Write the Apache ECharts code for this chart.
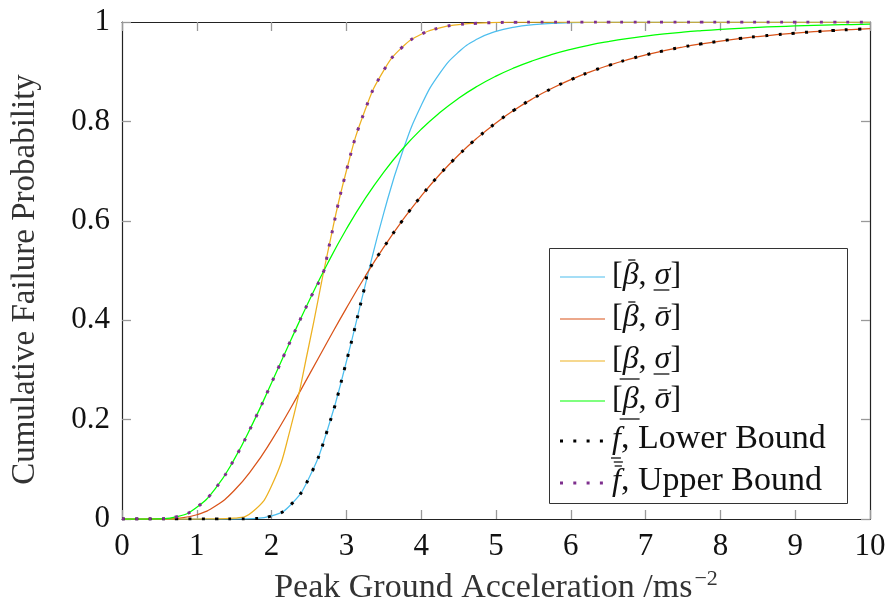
<!DOCTYPE html>
<html><head><meta charset="utf-8">
<script src="https://cdn.jsdelivr.net/npm/echarts@6/dist/echarts.min.js"></script>
<style>html,body{margin:0;padding:0;background:#fff}#c{width:890px;height:610px}</style>
</head><body><div id="c"></div>
<script>
const xs = [0,0.25,0.5,0.75,1,1.25,1.5,1.75,2,2.25,2.5,2.75,3,3.25,3.5,3.75,4,4.25,4.5,4.75,5,5.25,5.5,5.75,6,6.25,6.5,6.75,7,7.25,7.5,7.75,8,8.25,8.5,8.75,9,9.25,9.5,9.75,10];
const cyanVals = [0,0,0,0,0,0,0.0000,0.0008,0.0061,0.0277,0.0826,0.1810,0.3169,0.4697,0.6158,0.7388,0.8320,0.8971,0.9395,0.9657,0.9811,0.9899,0.9947,0.9973,0.9986,0.9993,0.9996,0.9998,0.9999,0.9999,1,1,1,1,1,1,1,1,1,1,1];
const orangeVals = [0,0,0.0001,0.0015,0.0085,0.0261,0.0574,0.1023,0.1583,0.2218,0.2894,0.3577,0.4244,0.4879,0.5469,0.6009,0.6498,0.6936,0.7325,0.7668,0.7970,0.8235,0.8465,0.8666,0.8841,0.8993,0.9124,0.9238,0.9337,0.9423,0.9497,0.9561,0.9617,0.9666,0.9708,0.9744,0.9776,0.9804,0.9828,0.9849,0.9867];
const yellowVals = [0,0,0,0,0,0.0001,0.0016,0.0151,0.0667,0.1809,0.3501,0.5365,0.7007,0.8230,0.9028,0.9498,0.9753,0.9883,0.9947,0.9976,0.9990,0.9996,0.9998,0.9999,1,1,1,1,1,1,1,1,1,1,1,1,1,1,1,1,1];
const greenVals = [0,0,0.0004,0.0052,0.0235,0.0617,0.1199,0.1929,0.2741,0.3576,0.4388,0.5146,0.5834,0.6446,0.6981,0.7444,0.7841,0.8178,0.8465,0.8707,0.8911,0.9082,0.9226,0.9347,0.9449,0.9534,0.9605,0.9666,0.9716,0.9759,0.9795,0.9825,0.9851,0.9873,0.9891,0.9907,0.9920,0.9931,0.9941,0.9949,0.9956];
const lowerXs = [0,0.25,0.5,0.75,1,1.25,1.5,1.75,2,2.25,2.5,2.75,3,3.25,3.3,3.5,3.75,4,4.25,4.5,4.75,5,5.25,5.5,5.75,6,6.25,6.5,6.75,7,7.25,7.5,7.75,8,8.25,8.5,8.75,9,9.25,9.5,9.75,10];
const lowerVals = [0,0,0,0,0,0,0.0000,0.0008,0.0061,0.0277,0.0826,0.1810,0.3169,0.4697,0.5,0.5469,0.6009,0.6498,0.6936,0.7325,0.7668,0.7970,0.8235,0.8465,0.8666,0.8841,0.8993,0.9124,0.9238,0.9337,0.9423,0.9497,0.9561,0.9617,0.9666,0.9708,0.9744,0.9776,0.9804,0.9828,0.9849,0.9867];
const upperXs = [0,0.25,0.5,0.75,1,1.25,1.5,1.75,2,2.25,2.5,2.7,2.75,3,3.25,3.5,3.75,4,4.25,4.5,4.75,5,5.25,5.5,5.75,6,6.25,6.5,6.75,7,7.25,7.5,7.75,8,8.25,8.5,8.75,9,9.25,9.5,9.75,10];
const upperVals = [0,0,0.0004,0.0052,0.0235,0.0617,0.1199,0.1929,0.2741,0.3576,0.4388,0.5,0.5365,0.7007,0.8230,0.9028,0.9498,0.9753,0.9883,0.9947,0.9976,0.9990,0.9996,0.9998,0.9999,1,1,1,1,1,1,1,1,1,1,1,1,1,1,1,1,1];
const seriesNames = ['[β̄, σ̲]','[β̄, σ̄]','[β̲, σ̲]','[β̲, σ̄]','f̲, Lower Bound','f̿, Upper Bound'];
const xTicks = [0,1,2,3,4,5,6,7,8,9,10];
const yTicks = [0,0.2,0.4,0.6,0.8,1];
const xTitle = 'Peak Ground Acceleration /ms';
const xTitleSup = '−2';
const yTitle = 'Cumulative Failure Probability';

const FONT = 'Liberation Serif';
const colors = ['#4DBEEE','#D95319','#EDB120','#00FF00','#000000','#7E2F8E'];
const pair = (a,b) => a.map((v,i)=>[v,b[i]]);
const chart = echarts.init(document.getElementById('c'), null, {renderer:'canvas'});
const DOT = [3, 10.3];
const solid = (name, color, vals) => ({name, type:'line', data: pair(xs, vals), showSymbol:false, symbol:'none', smooth:0.5, lineStyle:{color, width:1.25}, itemStyle:{color}, z:2});
const dotted = (name, color, x, vals) => ({name, type:'line', data: pair(x, vals), showSymbol:false, symbol:'none', smooth:0.5, lineStyle:{color, width:3, type:DOT, cap:'butt'}, itemStyle:{color}, z:3});
const axisCommon = {min:0, splitLine:{show:false}, axisLine:{show:true, onZero:false, lineStyle:{color:'#222', width:1.2}}, axisTick:{show:true, inside:true, length:9, lineStyle:{color:'#999', width:1.3}}};

// ---- legend built from text measurement ----
const mctx = document.createElement('canvas').getContext('2d');
function tw(t, italic, size){ mctx.font = (italic?'italic ':'') + size + 'px "' + FONT + '"'; return mctx.measureText(t).width; }
const MS = 32, TS = 34;
const legendRows = [
  {base:286, parts:[['[',0],['β',1,'bover'],[', ',0],['σ',1,'sunder'],[']',0]]},
  {base:328, parts:[['[',0],['β',1,'bover'],[', ',0],['σ',1,'sover'],[']',0]]},
  {base:370, parts:[['[',0],['β',1,'bunder'],[', ',0],['σ',1,'sunder'],[']',0]]},
  {base:410, parts:[['[',0],['β',1,'bunder'],[', ',0],['σ',1,'sover'],[']',0]]},
  {base:450, parts:[['f',1,'funder'],[', Lower Bound',0]]},
  {base:492, parts:[['f',1,'fdbl'],[', Upper Bound',0]]}
];
const graphics = [{type:'rect', shape:{x:549.5, y:248.5, width:298, height:255}, style:{fill:'#fff', stroke:'#333', lineWidth:1}, z:10}];
legendRows.forEach((row, i) => {
  const iy = row.base - 9;
  const isDot = i >= 4;
  graphics.push({type:'line', shape:{x1:560, y1:iy, x2:isDot?607:605, y2:iy}, style:{stroke:colors[i], lineWidth:isDot?3:1.2, lineDash:isDot?DOT:null}, z:11});
  let x = 612;
  row.parts.forEach(p => {
    const [t, it, bar] = p;
    const size = (it || i < 4) ? MS : TS;
    const w = tw(t, !!it, size);
    graphics.push({type:'text', x:x, y:row.base - 0.33*size, style:{text:t, font:(it?'italic ':'') + size + 'px "' + FONT + '"', fill:'#111', textVerticalAlign:'middle', textAlign:'left'}, z:11});
    const b = row.base;
    const L = (x1,y1,x2,y2) => graphics.push({type:'line', shape:{x1,y1,x2,y2}, style:{stroke:'#111', lineWidth:1.3}, z:11});
    if (bar === 'bover') L(x+0.35*w, b-26, x+0.8*w, b-26);
    if (bar === 'sover') L(x+0.25*w, b-20, x+0.8*w, b-20);
    if (bar === 'sunder') L(x-1, b+4, x+w-1, b+4);
    if (bar === 'bunder') L(x-3, b+9, x+w+1, b+9);
    if (bar === 'funder') L(x-1, b+8, x+w, b+8);
    if (bar === 'fdbl') { L(x+0.2*w, b-30, x+w+2, b-30); L(x+0.3*w, b-26, x+w+1, b-26); }
    x += w;
  });
});

chart.setOption({
  animation:false,
  backgroundColor:'#fff',
  grid:{left:122, right:20, top:22, bottom:89},
  xAxis:[
    Object.assign({type:'value', position:'bottom', max:10, interval:1, name: xTitle + '{sup|' + xTitleSup + '}', nameLocation:'middle', nameGap:49,
      nameTextStyle:{fontFamily:FONT, fontSize:34, color:'#333', rich:{sup:{fontFamily:FONT, fontSize:22, color:'#333', verticalAlign:'top', padding:[0,0,18,2]}}},
      axisLabel:{fontFamily:FONT, fontSize:31, color:'#111', margin:12}}, axisCommon),
    Object.assign({type:'value', position:'top', max:10, interval:1, axisLabel:{show:false}}, axisCommon)
  ],
  yAxis:[
    Object.assign({type:'value', position:'left', max:1, interval:0.2, name:yTitle, nameLocation:'middle', nameGap:80,
      nameTextStyle:{fontFamily:FONT, fontSize:33, color:'#333', padding:[0,18,0,0]},
      axisLabel:{fontFamily:FONT, fontSize:31, color:'#111', margin:12}}, axisCommon),
    Object.assign({type:'value', position:'right', max:1, interval:0.2, axisLabel:{show:false}}, axisCommon)
  ],
  graphic: graphics,
  series:[
    solid(seriesNames[0],colors[0],cyanVals),
    solid(seriesNames[1],colors[1],orangeVals),
    solid(seriesNames[2],colors[2],yellowVals),
    solid(seriesNames[3],colors[3],greenVals),
    dotted(seriesNames[4],colors[4],lowerXs,lowerVals),
    dotted(seriesNames[5],colors[5],upperXs,upperVals)
  ]
});
</script></body></html>
